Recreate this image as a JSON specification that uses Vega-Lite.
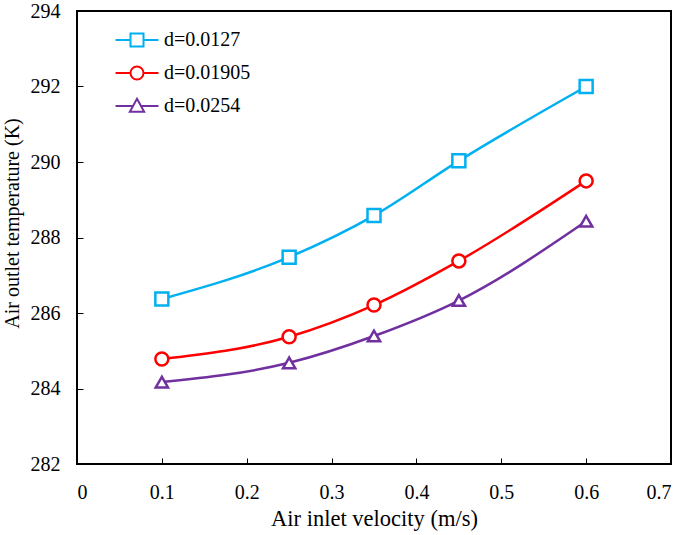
{
  "$schema": "https://vega.github.io/schema/vega-lite/v6.json",
  "width": 594,
  "height": 453,
  "autosize": {"type": "none"},
  "padding": {"left": 77, "top": 11, "right": 14, "bottom": 71},
  "background": "white",
  "config": {
    "view": {"stroke": "black", "strokeWidth": 2},
    "font": "Liberation Serif"
  },
  "data": {
    "values": [
      {"v": 0.1, "T": 286.37, "d": "d=0.0127"},
      {"v": 0.25, "T": 287.48, "d": "d=0.0127"},
      {"v": 0.35, "T": 288.58, "d": "d=0.0127"},
      {"v": 0.45, "T": 290.03, "d": "d=0.0127"},
      {"v": 0.6, "T": 292.0, "d": "d=0.0127"},
      {"v": 0.1, "T": 284.78, "d": "d=0.01905"},
      {"v": 0.25, "T": 285.37, "d": "d=0.01905"},
      {"v": 0.35, "T": 286.21, "d": "d=0.01905"},
      {"v": 0.45, "T": 287.38, "d": "d=0.01905"},
      {"v": 0.6, "T": 289.5, "d": "d=0.01905"},
      {"v": 0.1, "T": 284.17, "d": "d=0.0254"},
      {"v": 0.25, "T": 284.68, "d": "d=0.0254"},
      {"v": 0.35, "T": 285.39, "d": "d=0.0254"},
      {"v": 0.45, "T": 286.33, "d": "d=0.0254"},
      {"v": 0.6, "T": 288.43, "d": "d=0.0254"}
    ]
  },
  "encoding": {
    "x": {
      "field": "v", "type": "quantitative",
      "scale": {"domain": [0, 0.7], "nice": false, "zero": false},
      "axis": {
        "title": "Air inlet velocity (m/s)",
        "values": [0, 0.1, 0.2, 0.3, 0.4, 0.5, 0.6, 0.7],
        "format": "~g",
        "grid": false, "domain": false,
        "tickSize": -6, "tickColor": "black", "tickWidth": 1,
        "labelFont": "Liberation Serif", "labelFontSize": 20, "labelColor": "black",
        "labelPadding": 24,
        "titleFont": "Liberation Serif", "titleFontSize": 22.5, "titleFontWeight": "normal", "titleColor": "black",
        "titlePadding": 5
      }
    },
    "y": {
      "field": "T", "type": "quantitative",
      "scale": {"domain": [282, 294], "nice": false, "zero": false},
      "axis": {
        "title": "Air outlet temperature (K)",
        "values": [282, 284, 286, 288, 290, 292, 294],
        "grid": false, "domain": false,
        "tickSize": -6, "tickColor": "black", "tickWidth": 1,
        "labelFont": "Liberation Serif", "labelFontSize": 20, "labelColor": "black",
        "labelPadding": 23,
        "titleFont": "Liberation Serif", "titleFontSize": 20, "titleFontWeight": "normal", "titleColor": "black",
        "titleX": -59,
        "titleY": 212,
        "titleBaseline": "alphabetic",
        "titleAngle": -90,
        "titleAlign": "center"
      }
    },
    "color": {
      "field": "d", "type": "nominal",
      "scale": {"domain": ["d=0.0127", "d=0.01905", "d=0.0254"], "range": ["#00b0f0", "#ff0000", "#7030a0"]},
      "legend": {
        "title": null,
        "orient": "none",
        "legendX": 46,
        "legendY": 15,
        "symbolSize": 676,
        "symbolStrokeWidth": 2,
        "labelFont": "Liberation Serif",
        "labelFontSize": 20,
        "labelColor": "black",
        "labelOffset": 13,
        "rowPadding": 8,
        "padding": 0,
        "encode": {
          "symbols": {
            "update": {
              "shape": {"signal": "datum.value === 'd=0.0127' ? 'M-1.65,0H-0.5M0.5,0H1.65M-0.5,-0.5H0.5V0.5H-0.5Z' : datum.value === 'd=0.01905' ? 'M-1.65,0H-0.5M0.5,0H1.65M0.5,0A0.5,0.5,0,1,1,-0.5,0A0.5,0.5,0,1,1,0.5,0Z' : 'M-1.65,0H-0.3M0.3,0H1.65M0,-0.55L0.55,0.45H-0.55Z'"},
              "fill": {"value": "transparent"},
              "strokeWidth": {"value": 2},
              "opacity": {"value": 1}
            }
          }
        }
      }
    }
  },
  "layer": [
    {
      "mark": {"type": "line", "interpolate": "monotone", "strokeWidth": 2.5}
    },
    {
      "transform": [{"filter": "datum.d === 'd=0.0127'"}],
      "mark": {"type": "point", "shape": "square", "filled": false, "size": 169, "strokeWidth": 2.5, "opacity": 1, "fill": "white", "fillOpacity": 1}
    },
    {
      "transform": [{"filter": "datum.d === 'd=0.01905'"}],
      "mark": {"type": "point", "shape": "circle", "filled": false, "size": 169, "strokeWidth": 2.5, "opacity": 1, "fill": "white", "fillOpacity": 1}
    },
    {
      "transform": [{"filter": "datum.d === 'd=0.0254'"}],
      "mark": {"type": "point", "shape": "triangle-up", "filled": false, "size": 150, "strokeWidth": 2.5, "opacity": 1, "fill": "white", "fillOpacity": 1}
    }
  ]
}
